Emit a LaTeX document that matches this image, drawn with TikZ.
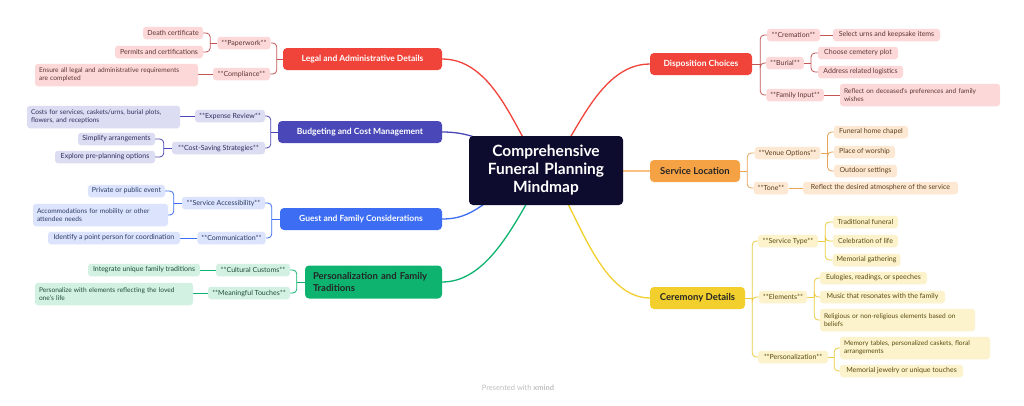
\documentclass[tikz,border=0pt]{standalone}
\usepackage{fontspec}
\setmainfont{Lato}
\usetikzlibrary{backgrounds,calc}
\definecolor{navy}{HTML}{0E0C2E}
\definecolor{mRed}{HTML}{F0443B}\definecolor{sRed}{HTML}{FCD9D8}\definecolor{tRed}{HTML}{5E3434}\definecolor{lRed}{HTML}{C45555}
\definecolor{mPur}{HTML}{4A48B8}\definecolor{sPur}{HTML}{DCDCF2}\definecolor{tPur}{HTML}{2F2F5E}\definecolor{lPur}{HTML}{4A48B8}
\definecolor{mBlu}{HTML}{3D6DF2}\definecolor{sBlu}{HTML}{DBE4FC}\definecolor{tBlu}{HTML}{2C3A66}\definecolor{lBlu}{HTML}{3D6DF2}
\definecolor{mGrn}{HTML}{0DB36F}\definecolor{sGrn}{HTML}{D2F1E3}\definecolor{tGrn}{HTML}{1F4D38}\definecolor{lGrn}{HTML}{0DB36F}
\definecolor{mOra}{HTML}{F5A245}\definecolor{sOra}{HTML}{FDE9D3}\definecolor{tOra}{HTML}{5C3D1A}\definecolor{lOra}{HTML}{E8A458}
\definecolor{mYel}{HTML}{F2CF2C}\definecolor{sYel}{HTML}{FCF3CC}\definecolor{tYel}{HTML}{5A4A10}\definecolor{lYel}{HTML}{E8CB3E}
\begin{document}
\begin{tikzpicture}[x=1pt,y=-1pt,
  base/.style={rounded corners=3pt, inner ysep=0pt, inner xsep=4pt, align=center, minimum height=12.5},
  sub/.style 2 args={base, fill=#1, text=#2, font=\fontsize{7}{8}\selectfont},
  two/.style={align=left, minimum height=22.5, font=\fontsize{6.6}{8}\selectfont},
  rs/.style={sub={sRed}{tRed}}, ps/.style={sub={sPur}{tPur}}, bs/.style={sub={sBlu}{tBlu}},
  gs/.style={sub={sGrn}{tGrn}}, os/.style={sub={sOra}{tOra}}, ys/.style={sub={sYel}{tYel}},
  topic/.style 2 args={base, rounded corners=4pt, fill=#1, text=#2, minimum height=22, font=\fontsize{8.5}{11}\selectfont\bfseries},
  darktopic/.style={font=\fontsize{9.5}{12}\selectfont\bfseries},
  mainline/.style={line width=1.3pt},
  subline/.style={line width=0.8pt, rounded corners=4pt},
]
% ---------- center ----------
\node[fill=navy, text=white, rounded corners=4pt, minimum width=154, minimum height=69, text width=146, align=center,
  font=\fontsize{15.5}{18}\selectfont\bfseries] (center) at (546,170.5) {Comprehensive\\Funeral Planning\\Mindmap};

% ---------- Legal ----------
\node[topic={mRed}{white}, minimum width=159] (legal) at (362.5,59) {Legal and Administrative Details};
\node[rs, minimum width=52] (paper) at (244,43) {**Paperwork**};
\node[rs, minimum width=60] (death) at (173,33) {Death certificate};
\node[rs, minimum width=88] (permits) at (159,52) {Permits and certifications};
\node[rs, minimum width=57] (compl) at (241.5,74) {**Compliance**};
\node[rs, two, text width=155] (ensure) at (116.5,75) {Ensure all legal and administrative requirements\\are completed};

% ---------- Budget ----------
\node[topic={mPur}{white}, minimum width=164] (budget) at (360,132) {Budgeting and Cost Management};
\node[ps, minimum width=70] (expense) at (230,116) {**Expense Review**};
\node[ps, two, text width=145] (costs) at (103.5,117) {Costs for services, caskets/urns, burial plots,\\flowers, and receptions};
\node[ps, minimum width=93] (saving) at (218.5,148) {**Cost-Saving Strategies**};
\node[ps, minimum width=77] (simplify) at (116.5,139) {Simplify arrangements};
\node[ps, minimum width=100] (explore) at (105,157) {Explore pre-planning options};

% ---------- Guest ----------
\node[topic={mBlu}{white}, minimum width=162] (guest) at (361,219) {Guest and Family Considerations};
\node[bs, minimum width=83] (access) at (223.5,203) {**Service Accessibility**};
\node[bs, minimum width=77] (private) at (126.5,191) {Private or public event};
\node[bs, two, text width=127] (accom) at (100.5,215) {Accommodations for mobility or other\\attendee needs};
\node[bs, minimum width=67] (comm) at (231.5,238) {**Communication**};
\node[bs, minimum width=132] (identify) at (114,238) {Identify a point person for coordination};

% ---------- Personalization ----------
\node[topic={mGrn}{black!85}, darktopic, minimum width=137, minimum height=33, text width=121, align=left] (perso) at (373.5,282) {Personalization and Family\\Traditions};
\node[gs, minimum width=74] (cultural) at (253,270) {**Cultural Customs**};
\node[gs, minimum width=112] (integrate) at (144,270) {Integrate unique family traditions};
\node[gs, minimum width=82] (meaning) at (249,293) {**Meaningful Touches**};
\node[gs, two, text width=150] (personal) at (114,294) {Personalize with elements reflecting the loved\\one's life};

% ---------- Disposition ----------
\node[topic={mRed}{white}, minimum width=102] (dispo) at (701,64) {Disposition Choices};
\node[rs, minimum width=53] (crem) at (793.5,35) {**Cremation**};
\node[rs, minimum width=107] (urns) at (886.5,35) {Select urns and keepsake items};
\node[rs, minimum width=36] (burial) at (785,63) {**Burial**};
\node[rs, minimum width=80] (plot) at (858,53) {Choose cemetery plot};
\node[rs, minimum width=85] (logist) at (860.5,72) {Address related logistics};
\node[rs, minimum width=56] (family) at (795,95) {**Family Input**};
\node[rs, two, text width=152] (reflect) at (920,95) {Reflect on deceased's preferences and family\\wishes};

% ---------- Service Location ----------
\node[topic={mOra}{black!85}, darktopic, minimum width=90] (loc) at (695,171) {Service Location};
\node[os, minimum width=65] (venue) at (787.5,153) {**Venue Options**};
\node[os, minimum width=74] (chapel) at (871,132) {Funeral home chapel};
\node[os, minimum width=61] (worship) at (864.5,152) {Place of worship};
\node[os, minimum width=63] (outdoor) at (865.5,171) {Outdoor settings};
\node[os, minimum width=32] (tone) at (771,188) {**Tone**};
\node[os, minimum width=155] (atmos) at (880.5,188) {Reflect the desired atmosphere of the service};

% ---------- Ceremony ----------
\node[topic={mYel}{black!85}, darktopic, minimum width=95] (cer) at (697.5,298) {Ceremony Details};
\node[ys, minimum width=60] (stype) at (788,241) {**Service Type**};
\node[ys, minimum width=65] (trad) at (865.5,222) {Traditional funeral};
\node[ys, minimum width=65] (celeb) at (865.5,241) {Celebration of life};
\node[ys, minimum width=67] (memg) at (866.5,260) {Memorial gathering};
\node[ys, minimum width=46] (elem) at (783,297) {**Elements**};
\node[ys, minimum width=107] (eulog) at (873.5,278) {Eulogies, readings, or speeches};
\node[ys, minimum width=125] (music) at (882.5,297) {Music that resonates with the family};
\node[ys, two, text width=147] (relig) at (897.5,320) {Religious or non-religious elements based on\\beliefs};
\node[ys, minimum width=70] (pers2) at (793,357) {**Personalization**};
\node[ys, two, text width=142] (memt) at (915,348) {Memory tables, personalized caskets, floral\\arrangements};
\node[ys, minimum width=123] (jewel) at (901.5,371) {Memorial jewelry or unique touches};

% ---------- footer ----------
\node[text=black!25, font=\fontsize{7.5}{9}\selectfont] (footer) at (518,388) {Presented with \textbf{xmind}};

% ---------- spine coordinates ----------
\coordinate (legalS) at ($(legal.west)+(-6,0)$);
\coordinate (paperS) at ($(paper.west)+(-7,0)$);
\coordinate (budgetS) at ($(budget.west)+(-7,0)$);
\coordinate (savingS) at ($(saving.west)+(-8,0)$);
\coordinate (guestS) at ($(guest.west)+(-8,0)$);
\coordinate (accessS) at ($(access.west)+(-8,0)$);
\coordinate (persoS) at ($(perso.west)+(-8,0)$);
\coordinate (dispoS) at ($(dispo.east)+(8,0)$);
\coordinate (burialS) at ($(burial.east)+(7,0)$);
\coordinate (locS) at ($(loc.east)+(7,0)$);
\coordinate (venueS) at ($(venue.east)+(7,0)$);
\coordinate (cerS) at ($(cer.east)+(7,0)$);
\coordinate (stypeS) at ($(stype.east)+(7,0)$);
\coordinate (elemS) at ($(elem.east)+(7,0)$);
\coordinate (pers2S) at ($(pers2.east)+(6,0)$);

\begin{scope}[on background layer]
\fill[white] (0,0) rectangle (1024,405);
% main connectors
\draw[mainline, mRed] (legal.east) .. controls +(58,0) and +(-26,-20) .. (center.center);
\draw[mainline, mPur] (budget.east) .. controls +(40,0) and +(-50,-20) .. (center.center);
\draw[mainline, mBlu] (guest.east) .. controls +(40,0) and +(-60,20) .. (center.center);
\draw[mainline, mGrn] (perso.east) .. controls +(50,0) and +(-26,40) .. (center.center);
\draw[mainline, mRed] (dispo.west) .. controls +(-55,0) and +(26,-20) .. (center.center);
\draw[mainline, mOra] (loc.west) .. controls +(-40,0) and +(40,0) .. (center.center);
\draw[mainline, mYel] (cer.west) .. controls +(-55,0) and +(26,20) .. (center.center);

% Legal
\draw[subline, lRed] (legal.west) -- (legalS);
\draw[subline, lRed] (legalS) |- (paper.east);
\draw[subline, lRed] (legalS) |- (compl.east);
\draw[subline, lRed] (paper.west) -- (paperS);
\draw[subline, lRed] (paperS) |- (death.east);
\draw[subline, lRed] (paperS) |- (permits.east);
\draw[subline, lRed] (compl.west) -- (ensure.east |- compl.west);
% Budget
\draw[subline, lPur] (budget.west) -- (budgetS);
\draw[subline, lPur] (budgetS) |- (expense.east);
\draw[subline, lPur] (budgetS) |- (saving.east);
\draw[subline, lPur] (expense.west) -- (costs.east |- expense.west);
\draw[subline, lPur] (saving.west) -- (savingS);
\draw[subline, lPur] (savingS) |- (simplify.east);
\draw[subline, lPur] (savingS) |- (explore.east);
% Guest
\draw[subline, lBlu] (guest.west) -- (guestS);
\draw[subline, lBlu] (guestS) |- (access.east);
\draw[subline, lBlu] (guestS) |- (comm.east);
\draw[subline, lBlu] (access.west) -- (accessS);
\draw[subline, lBlu] (accessS) |- (private.east);
\draw[subline, lBlu] (accessS) |- (accom.east);
\draw[subline, lBlu] (comm.west) -- (identify.east);
% Personalization
\draw[subline, lGrn] (perso.west) -- (persoS);
\draw[subline, lGrn] (persoS) |- (cultural.east);
\draw[subline, lGrn] (persoS) |- (meaning.east);
\draw[subline, lGrn] (cultural.west) -- (integrate.east);
\draw[subline, lGrn] (meaning.west) -- (personal.east |- meaning.west);
% Disposition
\draw[subline, lRed] (dispo.east) -- (dispoS);
\draw[subline, lRed] (dispoS) |- (crem.west);
\draw[subline, lRed] (dispoS) |- (burial.west);
\draw[subline, lRed] (dispoS) |- (family.west);
\draw[subline, lRed] (crem.east) -- (urns.west);
\draw[subline, lRed] (burial.east) -- (burialS);
\draw[subline, lRed] (burialS) |- (plot.west);
\draw[subline, lRed] (burialS) |- (logist.west);
\draw[subline, lRed] (family.east) -- (reflect.west |- family.east);
% Location
\draw[subline, lOra] (loc.east) -- (locS);
\draw[subline, lOra] (locS) |- (venue.west);
\draw[subline, lOra] (locS) |- (tone.west);
\draw[subline, lOra] (venue.east) -- (venueS);
\draw[subline, lOra] (venueS) |- (chapel.west);
\draw[subline, lOra] (venueS) |- (worship.west);
\draw[subline, lOra] (venueS) |- (outdoor.west);
\draw[subline, lOra] (tone.east) -- (atmos.west);
% Ceremony
\draw[subline, lYel] (cer.east) -- (cerS);
\draw[subline, lYel] (cerS) |- (stype.west);
\draw[subline, lYel] (cerS) |- (elem.west);
\draw[subline, lYel] (cerS) |- (pers2.west);
\draw[subline, lYel] (stype.east) -- (stypeS);
\draw[subline, lYel] (stypeS) |- (trad.west);
\draw[subline, lYel] (stypeS) |- (celeb.west);
\draw[subline, lYel] (stypeS) |- (memg.west);
\draw[subline, lYel] (elem.east) -- (elemS);
\draw[subline, lYel] (elemS) |- (eulog.west);
\draw[subline, lYel] (elemS) |- (music.west);
\draw[subline, lYel] (elemS) |- (relig.west);
\draw[subline, lYel] (pers2.east) -- (pers2S);
\draw[subline, lYel] (pers2S) |- (memt.west);
\draw[subline, lYel] (pers2S) |- (jewel.west);
\end{scope}
\useasboundingbox (0,0) rectangle (1024,405);
\end{tikzpicture}
\end{document}
